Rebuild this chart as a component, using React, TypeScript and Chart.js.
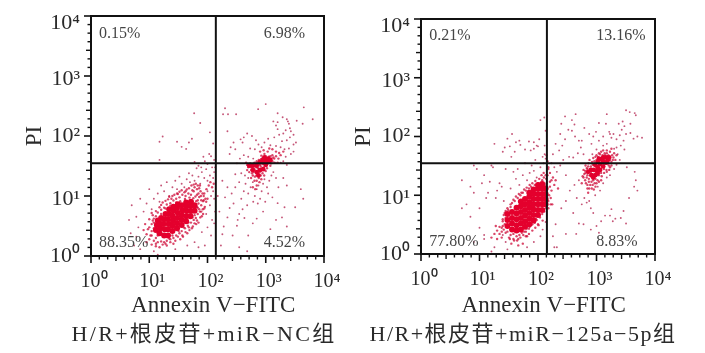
import React, { useEffect, useRef } from "react";
import { Chart, registerables } from "chart.js";

Chart.register(...registerables);

type P = number[];

const decades = [1, 10, 100, 1000, 10000];
const decadeLabels = ["10⁰", "10¹", "10²", "10³", "10⁴"];
const xTitle = "  Annexin V\u2212FITC";
const yTitle = "PI";

const leftTitle = "H/R+根皮苷+miR\u2212NC组";
const rightTitle = "H/R+根皮苷+miR\u2212125a\u22125p组";

const leftPct = ["0.15%", "6.98%", "88.35%", "4.52%"];
const rightPct = ["0.21%", "13.16%", "77.80%", "8.83%"];
const leftPctAt: P[] = [[1.37, 4960], [927, 4960], [1.37, 1.63], [927, 1.63]];
const rightPctAt: P[] = [[1.39, 5130], [993, 5130], [1.39, 1.6], [993, 1.6]];

const leftGateX = 139;
const leftGateY = 35;
const rightGateX = 142;
const rightGateY = 35;

const leftCore: P[] = [
  [13,2.7],[13.5,3.3],[14,3.9],[15,2.4],[15.5,2.9],[15,3.5],[16,4.3],[18,2.2],[18.5,2.8],[17.5,3.4],[18,4.1],[19,5],
  [21,2.2],[21,2.8],[21.5,3.4],[21,4.1],[21.5,5],[22,6],[25,2.6],[25,3.2],[25.5,3.9],[25,4.7],[26,5.7],[26,6.6],
  [30,2.9],[30,3.5],[30,4.3],[31,5.2],[30,6.3],[31,7.3],[36,3.3],[36,4],[36,4.8],[37,5.8],[36,7],[43,3.8],[43,4.6],
  [44,5.6],[43,6.7],[43,7.8],[51,4.6],[52,5.6],[51,6.8],[52,8],[60,5.7],[60,7],
];
const leftDense: P[] = [
  [850,37],[900,40],[950,36],[1000,40],[1050,36],[1100,42],[1150,38],[1000,33],[700,32],[600,32],[520,32],[800,37],[950,44],[1200,40],
  [600,27],[700,25],[800,27],[750,22],[900,28],
];
const leftMid: P[] = [
  [9,2.3],[10,1.9],[11,2.6],[11,3.4],[10,3],[12,1.8],[13,2],[13,4.6],[12,4.2],[14,1.7],[14,5.3],[16,1.75],[16,5.9],[18,1.7],
  [18,6.4],[20,1.8],[20,7.2],[23,1.9],[23,7.6],[26,2],[26,8.4],[29,2.2],[29,9],[33,2.4],[33,9.5],[36,2.6],[37,10.5],[41,2.9],
  [42,10],[46,3.2],[47,11],[52,3.6],[52,10.5],[58,4],[58,12],[63,4.3],[62,9.8],[68,5],[68,8.5],[72,6],[72,9.6],[78,7],[76,12],
  [66,13],[60,14],[55,12.5],[84,8.2],[90,6.6],[70,3.6],[80,4.6],[45,2.4],[34,1.9],[26,1.6],[20,1.5],[15,1.4],[9,1.7],[8,2.7],
  [105,15],[112,17],[120,14],[128,16],[96,13],[88,11],[74,15],[66,10.5],[42,12],[31,10.8],[24,9],[11,5.2],[10,4.1],[8.5,3.4],
  [56,3.1],[64,3.4],[38,2.1],[49,2.7],[78,5.5],[84,5],[86,10],[70,11],
  [11,2.2],[12,2.9],[12,3.6],[13,1.6],[14,2.2],[10.5,2.2],[9.5,2.8],[11.5,4.8],[13,5.6],[15,6.5],[16,7.1],[17,7.8],[19,8.3],[21,8.8],
  [22,9.7],[25,10],[27,10.5],[30,11],[33,11.8],[36,12.5],[40,11.5],[44,12.8],[48,13.5],[53,15],[58,15.5],[63,16],[68,15],[72,13.5],
  [77,10],[82,11],[86,8.5],[92,9],[78,8.5],[95,8],[100,9],[88,6.2],[75,4.4],[66,3.9],[60,3.5],[54,2.9],[48,3],[42,2.5],[37,2.2],
  [31,2.1],[28,1.8],[23,1.7],[19,1.6],[17,1.55],[13,1.45],[11,1.55],[70,7.5],[66,6.5],[64,8.2],[57,9.2],[49,9.4],[41,8.9],[34,8.2],
  [29,7.8],[23,6.9],[19,6.2],[16,5],[13,3],[11.5,3.9],[55,4.4],[60,4.8],[47,3.6],[39,3],[32,2.6],[25,2.2],[22,1.95],[83,6],[74,5.5],[68,6.4],
  [480,33],[520,34],[560,30],[600,34],[640,28],[620,25],[680,33],[720,36],[740,29],[760,40],[790,35],[820,31],[840,38],[860,42],
  [880,34],[900,37],[920,30],[950,40],[980,36],[1000,33],[1020,43],[1050,38],[1080,35],[1100,40],[1130,45],[1160,37],[1200,32],
  [1250,42],[1300,38],[1350,44],[1420,36],[1000,46],[950,50],[900,44],[840,47],[760,28],[690,22],[650,21],[700,18],[620,31],
  [560,27],[600,22],[780,25],[860,27],[950,27],[1050,29],[1500,46],[1650,42],[800,55],[920,58],[1080,55],
  [460,36],[500,30],[540,35],[580,31],[640,36],[660,33],[700,30],[700,38],[760,34],[800,33],[830,41],[880,40],[930,34],[970,43],
  [1020,39],[1080,42],[1150,41],[1200,46],[1240,35],[1300,48],[1400,42],[1600,36],[1700,52],[580,24],[640,18],[720,24],[760,20],
  [820,22],[880,24],[940,22],[1000,26],[700,15],[660,13],[780,17],[840,19],[600,14],[560,20],[520,25],[480,27],[1150,62],[1300,60],
  [1500,55],[1800,48],[2000,55],
];
const leftSparse: P[] = [
  [5,7],[6,4.5],[7,9],[5.5,1.5],[6.5,3],[8,5.5],[9,7.5],[10,13],[11,6],[12,9],[14,11],[15,8],[16,15],[18,12],[20,17],[22,10],
  [25,14],[28,18],[30,13],[33,21],[36,16],[40,14],[44,19],[48,24],[50,17],[55,22],[60,18],[65,29],[70,21],[75,16],[80,25],[88,20],
  [95,28],[100,18],[110,22],[115,10],[120,30],[125,12],[130,9],[100,12],[110,7],[95,5],[120,4],[100,3],[80,2.5],[115,2.2],[60,1.7],
  [70,1.4],[90,1.5],[130,3.5],[135,5.5],[125,20],[130,25],[12,1.2],[14,1.05],[28,1.3],[45,1.5],[6,2.1],[7,1.3],[4.5,4],[4.8,2.4],
  [17,98],[15,80],[30,80],[36,66],[54,90],[43,61],[48,78],[59,240],[75,165],[110,115],[107,50],[85,45],[115,46],[125,75],[15,40],
  [60,37],[70,32],[90,38],[130,40],[100,34],[135,30],[78,30],
  [200,290],[185,230],[225,230],[310,230],[1000,340],[740,280],[1600,240],[1950,205],[2300,190],[2400,175],[4500,300],[6400,190],
  [3400,180],[4300,160],[1350,175],[1600,170],[1500,150],[2500,160],[2600,135],[1600,130],[2700,120],[2200,125],[2000,110],[1700,105],
  [3000,105],[2600,95],[2300,85],[1900,82],[1400,95],[1100,90],[950,78],[1200,70],[1500,68],[1800,65],[2100,60],[2500,62],[3000,72],
  [3300,78],[3000,55],[2700,50],[2200,45],[2000,38],[2300,33],[1800,36],[750,72],[680,85],[580,100],[480,110],[420,95],[400,78],[370,88],
  [280,78],[250,65],[220,120],[240,50],[300,60],[420,48],[360,42],[320,35],[500,45],[610,42],[650,60],[540,62],[850,65],
  [4000,13],[4400,9],[3200,6.5],[1600,7.6],[2300,15],[2100,6.5],[1900,4.4],[2300,3.1],[600,3.5],[500,2.2],[320,3.2],[330,4],[270,2.2],
  [170,1.5],[240,6.3],[200,9.5],[150,10],[260,11],[300,14],[350,17],[420,12],[380,9],[450,16],[500,11],[550,14],[600,17],[650,10],
  [700,13],[750,15],[800,9],[850,12],[900,16],[950,19],[1050,14],[1150,18],[1250,22],[1100,11],[980,8],[730,7.5],[610,8],[480,7],
  [400,6],[350,5],[280,7.5],[220,14],[180,18],[300,23],[380,24],[440,22],[500,20],[1350,25],[1500,20],[1650,14],[2000,20],[1300,9.5],
  [430,4.3],[700,4.2],[900,5.5],[1200,2.8],[190,3.1],[220,4.4],[160,5.5],[180,2.3],[350,1.4],[480,1.2],[1500,4],
];

const rightCore: P[] = [
  [30,3],[30,3.8],[30,4.8],[36,2.6],[36,3.3],[36,4.1],[36,5.2],[43,2.5],[43,3.1],[43,3.9],[43,4.9],[43,6.1],[51,2.6],[51,3.3],[51,4.1],
  [51,5.2],[51,6.5],[51,7.8],[60,2.9],[60,3.6],[60,4.5],[60,5.6],[60,7],[60,8.6],[71,3.2],[71,4],[71,5],[71,6.2],[71,7.6],[71,9.4],[71,11],
  [84,3.7],[84,4.6],[84,5.7],[84,7],[84,8.6],[84,10.5],[84,12.5],[100,4.6],[100,5.6],[100,7],[100,8.6],[100,10.5],[100,13],[100,15],
  [118,5.6],[118,7],[118,8.6],[118,10.5],[118,13],[118,15.5],[135,7],[135,8.6],[135,10.5],[135,13],
];
const rightDense: P[] = [
  [900,27],[950,33],[1000,26],[1050,30],[1050,37],[1150,27],[1150,34],[1200,41],[1300,31],[1300,38],[1400,36],[1450,44],[1550,39],[1100,42],
  [820,22],[800,27],[880,20],[950,22],[1050,24],[1300,44],[1500,36],[1650,44],[720,25],
];
const rightMid: P[] = [
  [22,2.2],[24,2.8],[25,3.6],[26,4.6],[24,1.9],[28,2.3],[28,5.4],[30,6],[32,1.9],[34,6.3],[36,7.4],[38,1.8],[40,8],[44,1.7],[45,9],
  [50,1.9],[50,10],[56,2.1],[55,11],[62,2.4],[62,12],[70,2.7],[70,13],[76,3.1],[76,14],[84,3.6],[88,15],[92,4],[100,16],[105,4.6],
  [118,5.5],[130,6.6],[135,8],[118,18],[130,15],[135,12],[138,10],[126,20],[112,13.5],[25,3],[20,2.5],[18,2.2],[16,1.9],[46,1.4],
  [55,1.5],[65,2],[35,1.5],[80,2.5],[100,3.2],
  [26,2.6],[27,3.2],[28,4.1],[24,2.4],[25,3.9],[27,5],[31,5.6],[34,7],[38,8.4],[42,9.5],[47,10.5],[52,11],[58,12.5],[64,13.5],[72,15],
  [80,16],[90,17.5],[105,19],[115,22],[125,24],[135,22],[30,2.4],[34,2.1],[38,2.2],[43,2],[48,2.1],[53,2.3],[58,2.4],[64,2.7],[72,2.9],
  [80,3.2],[88,3.4],[95,3.8],[108,4.2],[118,4.8],[128,5.3],[136,6],[140,7.5],[140,9.5],[140,12],[140,16],[138,19],[150,8],[155,10],[160,14],
  [170,18],[150,6],[165,7],[145,22],[150,30],[145,38],[140,48],[22,2.9],[20,1.8],[19,3],[33,1.8],[39,1.7],[46,1.8],[62,2],[70,2.2],[90,2.8],
  [102,3.1],[120,3.7],
  [600,27],[650,32],[620,23],[680,20],[700,28],[730,35],[760,40],[800,31],[820,17],[840,37],[880,43],[900,33],[930,16],[960,45],[1000,40],
  [1040,18],[1060,45],[1100,22],[1150,50],[1180,42],[1230,21],[1280,48],[1340,28],[1380,52],[1480,27],[1550,46],[1620,32],[1700,40],
  [1800,37],[1850,48],[1950,44],[700,15],[750,13],[800,24],[640,18],[580,21],[560,16],[720,11],[1500,58],[1700,55],
  [650,24],[680,29],[700,22],[740,19],[760,26],[780,22],[820,21],[830,28],[860,33],[880,18],[920,38],[960,19],[1000,48],[1040,22],[1100,52],
  [1200,55],[1300,58],[1400,48],[1500,52],[1600,48],[1700,30],[1800,32],[1650,27],[1500,25],[1350,24],[1200,24],[720,31],[640,26],[600,20],
  [660,16],[700,13],[740,17],[780,15],[830,13],[900,12.5],[860,15],[960,14],[1000,16],[1100,17],[1200,18],[1900,40],[2000,52],[2200,48],
  [2100,40],[1800,62],
  [170,12],[190,15],[165,9],[200,18],[180,20],[220,13],[160,24],[175,7],[150,28],[160,17],
];
const rightSparse: P[] = [
  [8,32],[5,18],[6,7],[7,14],[8,11],[9,28],[10,6],[11,16],[12,22],[13,9],[14,11],[15,17],[17,30],[18,75],[16,32],[19,9],[20,12],
  [22,16],[24,14],[26,8],[25,55],[27,65],[30,92],[33,68],[36,110],[28,28],[34,13],[38,25],[42,19],[45,28],[48,15],[55,22],[60,35],
  [65,18],[72,24],[78,32],[85,26],[95,20],[110,30],[125,35],[135,42],[130,50],[120,45],[90,40],[50,72],[60,60],[75,58],[85,62],[95,70],
  [85,80],[100,68],[70,82],[48,85],[105,90],[130,70],[35,45],[40,55],[128,210],[110,190],[135,125],[42,80],[25,2.1],[18,1.3],[16,1.1],
  [12,2.1],[10,2.8],[8,1.6],[7,4.3],[5,6],[12,1.8],[30,1.2],[65,1.3],[85,1.6],[28,1.6],[110,2],[120,2.6],[135,3.5],
  [170,35],[190,30],[210,25],[240,32],[270,40],[300,22],[180,50],[230,58],[260,70],[200,75],[290,90],[240,110],[330,130],[250,165],[380,190],
  [290,220],[440,240],[380,125],[430,100],[500,85],[540,65],[480,52],[400,44],[340,45],[600,50],[560,85],[420,160],[620,140],[750,110],
  [880,100],[980,120],[820,75],[1100,85],[1300,70],[1500,75],[1800,95],[1650,120],[1950,110],[2200,90],[2500,105],[2700,130],[2400,165],
  [2800,180],[3000,150],[3200,110],[2900,85],[2600,70],[2200,65],[2000,62],[1300,100],[1450,165],[1100,170],[1500,240],[3200,280],[3700,260],
  [4500,250],[4700,230],[3800,165],[6000,95],[5000,100],[3800,115],[4300,92],[1700,110],[1000,60],[850,50],[3000,60],[2300,50],[3300,30],
  [4500,25],[4700,18],[5000,12],[3600,9],[4400,14],
  [300,8],[350,12],[420,15],[460,9],[500,18],[560,7],[620,9],[680,7.5],[750,8],[800,6],[880,5],[1050,14],[1150,12],[950,10],[1300,16],[1500,20],
  [1700,22],[2000,28],[2200,33],[2500,40],[1800,5.8],[1400,4.5],[1700,4.5],[2100,4],[2600,4.1],[2900,5.4],[3200,3.3],[1200,3.6],[1000,3],
  [800,2.6],[600,3.2],[500,3.3],[450,2.2],[250,6],[200,3.2],[180,2],[190,1.3],[210,1.3],[300,2.2],[400,5],[1100,2.3],[1900,3.6],
];

function panelDatasets(core: P[], dense: P[], mid: P[], sparse: P[], gx: number, gy: number) {
  const toXY = (rows: P[]) => rows.map(([x, y]) => ({ x, y }));
  return [
    { type: "scatter", data: toXY(sparse), pointRadius: 0.95, backgroundColor: "rgba(178,30,75,0.75)", pointBorderWidth: 0, order: 4 },
    { type: "scatter", data: toXY(mid), pointRadius: 1.2, backgroundColor: "rgba(205,10,55,0.75)", pointBorderWidth: 0, order: 3 },
    { type: "scatter", data: toXY(dense), pointRadius: 2.4, backgroundColor: "rgb(226,0,45)", pointBorderWidth: 0, order: 2 },
    { type: "scatter", data: toXY(core), pointRadius: 3, backgroundColor: "rgb(228,0,45)", pointBorderWidth: 0, order: 1 },
    { type: "line", data: [{ x: gx, y: 1 }, { x: gx, y: 10000 }], borderColor: "#111", borderWidth: 2, pointRadius: 0, order: 0 },
    { type: "line", data: [{ x: 1, y: gy }, { x: 10000, y: gy }], borderColor: "#111", borderWidth: 2, pointRadius: 0, order: 0 },
  ];
}

const minorSteps = [1, 2, 3, 4, 5, 6];
const yLabelDrop = [0, 3, 0, 3, 7];
const serif = "'Liberation Serif', serif";

type Caption = { text: string; centre: number; spacing: string };

const decor = (pct: string[], at: P[], caption: Caption) => ({
  id: "decor",
  afterDatasetsDraw(chart: any) {
    const { ctx, scales: { x, y }, chartArea: a } = chart;
    ctx.save();
    ctx.strokeStyle = "#111";
    ctx.lineWidth = 2;
    ctx.strokeRect(a.left, a.top, a.right - a.left, a.bottom - a.top);
    const mark = (scale: any, horizontal: boolean) => {
      decades.forEach((d, i) => {
        const p = scale.getPixelForValue(d);
        const line = (q: number, len: number, w: number) => {
          ctx.lineWidth = w;
          ctx.beginPath();
          if (horizontal) { ctx.moveTo(q, a.bottom); ctx.lineTo(q, a.bottom + len); }
          else { ctx.moveTo(a.left, q); ctx.lineTo(a.left - len, q); }
          ctx.stroke();
        };
        line(p, 7, 1.6);
        if (i < decades.length - 1) {
          minorSteps.forEach((k) => {
            const q = scale.getPixelForValue(d * Math.pow(10, k / 7));
            line(q, k === 3 ? 5 : 3.5, 1.4);
          });
        }
      });
    };
    mark(x, true);
    mark(y, false);
    ctx.fillStyle = "#454545";
    ctx.font = `16px ${serif}`;
    ctx.textBaseline = "middle";
    ctx.textAlign = "left";
    pct.forEach((t, i) => ctx.fillText(t, x.getPixelForValue(at[i][0]), y.getPixelForValue(at[i][1])));
    ctx.fillStyle = "#2a2a2a";
    ctx.font = `22px 'Liberation Serif', 'Noto Sans CJK SC', serif`;
    ctx.letterSpacing = caption.spacing;
    ctx.textAlign = "center";
    ctx.fillText(caption.text, caption.centre, 335);
    ctx.restore();
  },
});

function makeChart(canvas: HTMLCanvasElement, ds: any[], caption: Caption, plot: { left: number; top: number; right: number; bottom: number }, h: number, pct: string[], at: P[], yTitleTop: number) {
  return new Chart(canvas, {
    type: "scatter",
    data: { datasets: ds },
    plugins: [decor(pct, at, caption)],
    options: {
      responsive: false,
      animation: false,
      events: [],
      layout: { padding: { top: plot.top, right: plot.right, left: 0, bottom: 33 } },
      plugins: {
        legend: { display: false },
        tooltip: { enabled: false },
      },
      scales: {
        x: {
          type: "logarithmic",
          min: 1,
          max: 10000,
          grid: { display: false, drawTicks: false },
          border: { display: false },
          afterBuildTicks(s: any) { s.ticks = decades.map((value) => ({ value, major: true })); },
          afterFit(s: any) { s.height = h - plot.bottom - 33; s.paddingLeft = 0; s.paddingRight = 0; },
          ticks: {
            autoSkip: false,
            maxRotation: 0,
            padding: 14,
            labelOffset: 3,
            color: "#2a2a2a",
            font: { family: serif, size: 20 },
            callback: (v: any) => decadeLabels[decades.indexOf(Number(v))] ?? "",
          },
          title: {
            display: true,
            text: xTitle,
            color: "#2a2a2a",
            font: { family: serif, size: 23 },
            padding: { top: 0, bottom: 0 },
          },
        },
        y: {
          type: "logarithmic",
          min: 1,
          max: 10000,
          grid: { display: false, drawTicks: false },
          border: { display: false },
          afterBuildTicks(s: any) { s.ticks = decades.map((value) => ({ value, major: true })); },
          afterFit(s: any) { s.width = plot.left; s.paddingTop = 0; s.paddingBottom = 0; },
          ticks: {
            autoSkip: false,
            padding: 11,
            color: "#2a2a2a",
            font: (c: any) => {
              const drop = yLabelDrop[c.index] ?? 0;
              return { family: serif, size: 22, lineHeight: drop ? (drop * 2) / 22 : 1.2 };
            },
            callback: (v: any, i: number) => {
              const t = decadeLabels[decades.indexOf(Number(v))];
              if (!t) return "";
              return yLabelDrop[i] ? ["", t] : t;
            },
          },
          title: {
            display: true,
            text: yTitle,
            color: "#2a2a2a",
            font: { family: serif, size: 23 },
            padding: { top: yTitleTop, bottom: 0 },
          },
        },
      },
    } as any,
  } as any);
}

export default function App() {
  const a = useRef<HTMLCanvasElement>(null);
  const b = useRef<HTMLCanvasElement>(null);
  useEffect(() => {
    const c1 = makeChart(a.current!, panelDatasets(leftCore, leftDense, leftMid, leftSparse, leftGateX, leftGateY),
      { text: leftTitle, centre: 204, spacing: "2.3px" },
      { left: 91, top: 16, right: 26, bottom: 256 }, 353, leftPct, leftPctAt, 21);
    const c2 = makeChart(b.current!, panelDatasets(rightCore, rightDense, rightMid, rightSparse, rightGateX, rightGateY),
      { text: rightTitle, centre: 173, spacing: "1.5px" },
      { left: 71, top: 19, right: 50, bottom: 254 }, 353, rightPct, rightPctAt, 0);
    return () => { c1.destroy(); c2.destroy(); };
  }, []);
  return (
    <div style={{ position: "fixed", left: 0, top: 0, width: 705, height: 353, background: "#fff", overflow: "hidden" }}>
      <canvas ref={a} width={350} height={353} style={{ position: "absolute", left: 0, top: 0 }} />
      <canvas ref={b} width={355} height={353} style={{ position: "absolute", left: 350, top: 0 }} />
    </div>
  );
}
